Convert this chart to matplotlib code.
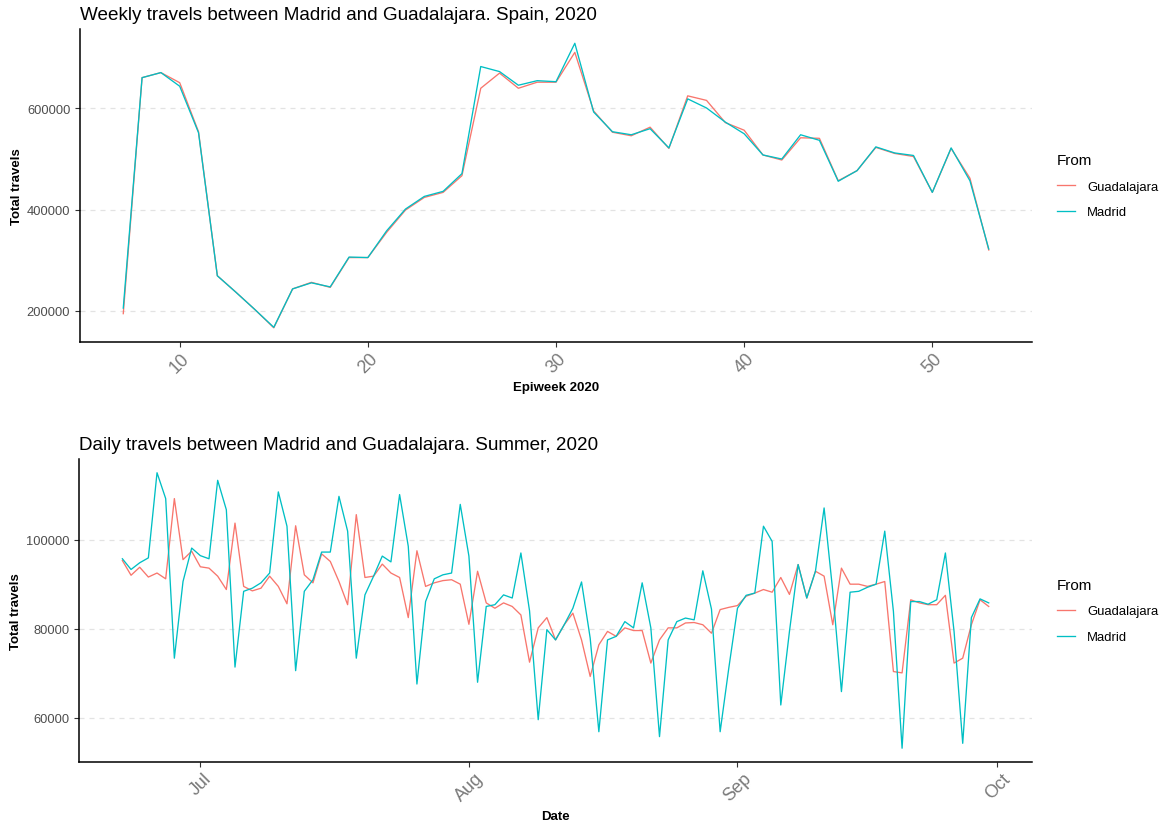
import numpy as np
import pandas as pd
import matplotlib
matplotlib.use("Agg")
import matplotlib.pyplot as plt
import matplotlib.dates as mdates

plt.rcParams['font.family'] = ['Liberation Sans', 'DejaVu Sans']

# weekly totals, epiweeks 7..53 of 2020
weeks = list(range(7, 54))
weekly_madrid = [205000, 661000, 671000, 644000, 552000, 269000, 236000, 202000,
                 167000, 243000, 255000, 247000, 306000, 305000, 358000, 401000,
                 426000, 436000, 471000, 683000, 673000, 646000, 655000, 653000,
                 729000, 593000, 554000, 548000, 560000, 522000, 619000, 601000,
                 573000, 550000, 508000, 500000, 548000, 537000, 456000, 477000,
                 524000, 512000, 507000, 434000, 522000, 457000, 322000]
weekly_guada = [194000, 661000, 671000, 651000, 554000, 269000, 236000, 202000,
                166000, 243000, 256000, 246000, 305000, 305000, 355000, 399000,
                424000, 434000, 467000, 640000, 670000, 640000, 652000, 652000,
                711000, 595000, 553000, 546000, 563000, 521000, 625000, 616000,
                572000, 557000, 508000, 498000, 542000, 541000, 457000, 477000,
                523000, 511000, 505000, 434000, 521000, 462000, 320000]

# daily totals, 22 Jun .. 30 Sep 2020
days = pd.date_range("2020-06-22", "2020-09-30", freq="D")
daily_madrid = [95700, 93300, 94800, 95900, 115000, 109200, 73400,
                90600, 98100, 96400, 95700, 113300, 106700, 71400,
                88400, 89100, 90300, 92500, 110700, 103000, 70600,
                88400, 91000, 97200, 97200, 109700, 101900, 73400,
                87600, 91800, 96300, 95000, 110100, 98500, 67600,
                86100, 91200, 92100, 92500, 107900, 96300, 68000,
                85000, 85400, 87600, 86900, 97000, 84000, 59600,
                79800, 77500, 80900, 84600, 90500, 77900, 56900,
                77500, 78300, 81600, 80200, 90300, 80200, 55800,
                77500, 81600, 82400, 82000, 93000, 84400, 56900,
                71200, 84600, 87500, 88000, 103000, 99600, 62900,
                79400, 94400, 86900, 92900, 107100, 88400, 65900,
                88200, 88400, 89300, 90000, 101900, 83900, 53200,
                86100, 86100, 85500, 86500, 97000, 79400, 54300,
                82500, 86700, 85800]
daily_guada = [95300, 92000, 93800, 91600, 92500, 91200, 109200,
               95500, 97400, 93900, 93600, 91800, 88800, 103700,
               89500, 88500, 89100, 91800, 89500, 85600, 103100,
               92100, 90300, 96800, 95100, 90600, 85400, 105600,
               91500, 91800, 94500, 92500, 91500, 82500, 97500,
               89500, 90300, 90800, 91000, 90000, 81000, 92900,
               85800, 84600, 85800, 85000, 83100, 72500, 80200,
               82500, 77500, 80900, 83500, 77500, 69300, 76400,
               79400, 78300, 80200, 79600, 79600, 72300, 77500,
               80200, 80200, 81300, 81400, 80900, 79000, 84300,
               84800, 85200, 87300, 88000, 88800, 88200, 91500,
               87700, 94400, 86900, 92900, 91800, 80900, 93600,
               90000, 90000, 89500, 90000, 90600, 70400, 70100,
               86500, 85800, 85400, 85400, 87500, 72300, 73400,
               80900, 86500, 85000]

red = "#F8766D"
teal = "#00BFC4"

fig = plt.figure(figsize=(11.66, 8.28), dpi=100)
ax1 = fig.add_axes([0.0686, 0.5857, 0.8165, 0.378])
ax2 = fig.add_axes([0.0678, 0.0785, 0.8173, 0.366])


def style(ax):
    for s in ["top", "right"]:
        ax.spines[s].set_visible(False)
    ax.spines["left"].set_linewidth(1.1)
    ax.spines["bottom"].set_linewidth(1.1)
    ax.grid(axis="y", linestyle=(0, (4, 4)), color="#e3e3e3", linewidth=0.9)
    ax.set_axisbelow(True)
    ax.margins(x=0.05, y=0.05)
    ax.tick_params(axis="y", labelsize=9.3, labelcolor="#4d4d4d", length=3.5, color="#333333")
    ax.tick_params(axis="x", labelsize=13, labelcolor="#7a7a7a", length=3.5, color="#333333",
                   labelrotation=45, pad=2)
    for lab in ax.get_xticklabels():
        lab.set_ha("center")
    ax.set_ylabel("Total travels", fontsize=9.5, fontweight="bold")
    ax.yaxis.set_label_coords(-0.06, 0.5)
    leg = ax.legend(title="From", loc="center left", bbox_to_anchor=(1.014, 0.5),
                    frameon=False, fontsize=9.4, title_fontsize=11, alignment="left",
                    handlelength=1.4, handletextpad=0.9, labelspacing=1.05)
    return leg


# weekly panel
ax1.plot(weeks, weekly_guada, color=red, linewidth=0.95, label="Guadalajara")
ax1.plot(weeks, weekly_madrid, color=teal, linewidth=0.95, label="Madrid")
ax1.set_xticks([10, 20, 30, 40, 50])
ax1.set_yticks([200000, 400000, 600000])
ax1.yaxis.set_major_formatter(matplotlib.ticker.FuncFormatter(lambda v, p: "%d" % v))
style(ax1)
ax1.set_title("Weekly travels between Madrid and Guadalajara. Spain, 2020",
              loc="left", fontsize=13.6, pad=7)
ax1.set_xlabel("Epiweek 2020", fontsize=9.5, fontweight="bold")
ax1.xaxis.set_label_coords(0.5, -0.125)

# daily panel
ax2.plot(days, daily_guada, color=red, linewidth=0.95, label="Guadalajara")
ax2.plot(days, daily_madrid, color=teal, linewidth=0.95, label="Madrid")
ax2.set_xticks(pd.to_datetime(["2020-07-01", "2020-08-01", "2020-09-01", "2020-10-01"]))
ax2.xaxis.set_major_formatter(mdates.DateFormatter("%b"))
ax2.set_yticks([60000, 80000, 100000])
ax2.yaxis.set_major_formatter(matplotlib.ticker.FuncFormatter(lambda v, p: "%d" % v))
ax2.set_xlim(days[0] - pd.Timedelta(days=5), pd.Timestamp("2020-10-05"))
style(ax2)
ax2.set_title("Daily travels between Madrid and Guadalajara. Summer, 2020",
              loc="left", fontsize=13.6, pad=7)
ax2.set_xlabel("Date", fontsize=9.5, fontweight="bold")
ax2.xaxis.set_label_coords(0.5, -0.158)

fig.savefig("out.png", dpi=100)
